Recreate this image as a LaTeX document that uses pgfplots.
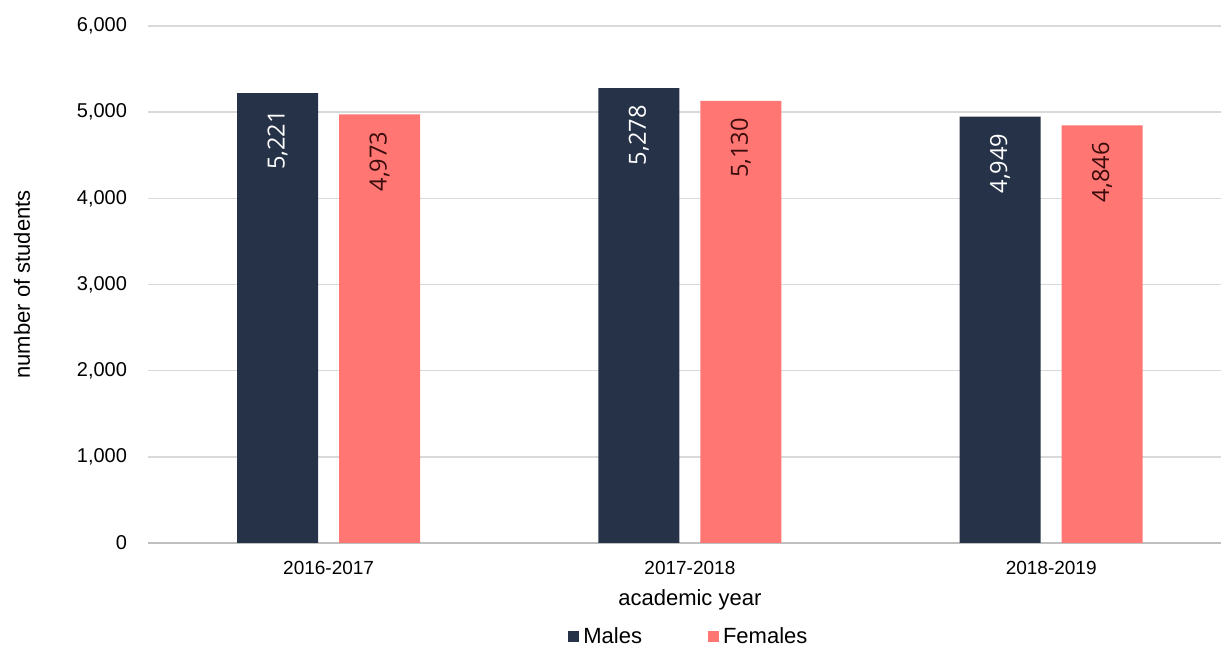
\documentclass[border=0pt]{standalone}
\usepackage{fontspec}
\setmainfont{Liberation Sans}
\newfontfamily\labelfont{Open Sans}
\usepackage{pgfplots}
\pgfplotsset{compat=1.18}
\definecolor{males}{HTML}{253248}
\definecolor{females}{HTML}{FF7673}
\definecolor{gridgray}{HTML}{D9D9D9}
\definecolor{axisgray}{HTML}{BFBFBF}
\definecolor{labeldark}{HTML}{3A0C0C}
\begin{document}
\begin{tikzpicture}
\path[use as bounding box] (-74pt,-51.5pt) rectangle (536.5pt,271.5pt);
\begin{axis}[
 at={(0,0)},anchor=south west,
 scale only axis,width=536.5pt,height=258.5pt,
 ybar,bar width=40.5pt,
 xmin=-0.5,xmax=2.47,ymin=0,ymax=6000,
 xtick={0,1,2},xticklabels={2016-2017,2017-2018,2018-2019},
 ytick={0,1000,...,6000},
 /pgf/number format/1000 sep={,},
 /pgf/number format/assume math mode=true,
 axis x line*=bottom,axis y line*=left,
 y axis line style={draw=none},
 x axis line style={axisgray,line width=0.75pt},
 major tick length=0pt,
 ymajorgrids,grid style={gridgray,line width=0.75pt},
 yticklabel style={font=\fontsize{10}{12}\selectfont,xshift=-7pt},
 xticklabel style={font=\fontsize{9.5}{11}\selectfont,yshift=-5.5pt},
 xlabel=academic year,ylabel=number of students,
 x label style={at={(axis description cs:0.505,-0.110)},anchor=center,font=\fontsize{11}{13}\selectfont},
 y label style={at={(axis description cs:-0.1174,0.5)},anchor=center,font=\fontsize{11}{13}\selectfont},
 point meta=explicit symbolic,
 nodes near coords,
 nodes near coords style={font=\labelfont\fontsize{11.8}{13}\selectfont,yshift=-5pt,rotate=90,anchor=east},
 legend style={at={(axis description cs:0.505,-0.1818)},anchor=center,draw=none,
   legend columns=-1,font=\fontsize{11}{13}\selectfont,
   /tikz/every even column/.append style={column sep=31pt}},
 legend image code/.code={\fill[#1] (0pt,-2.75pt) rectangle (5.5pt,2.75pt);},
]
% males
\addplot[fill=males,draw=none,bar shift=-25.5pt] coordinates {
 (0,5221) [\textcolor{white}{5,221}]
 (1,5278) [\textcolor{white}{5,278}]
 (2,4949) [\textcolor{white}{4,949}]
};
% females
\addplot[fill=females,draw=none,bar shift=25.5pt] coordinates {
 (0,4973) [\textcolor{labeldark}{4,973}]
 (1,5130) [\textcolor{labeldark}{5,130}]
 (2,4846) [\textcolor{labeldark}{4,846}]
};
\legend{Males,Females}
\end{axis}
\end{tikzpicture}
\end{document}
